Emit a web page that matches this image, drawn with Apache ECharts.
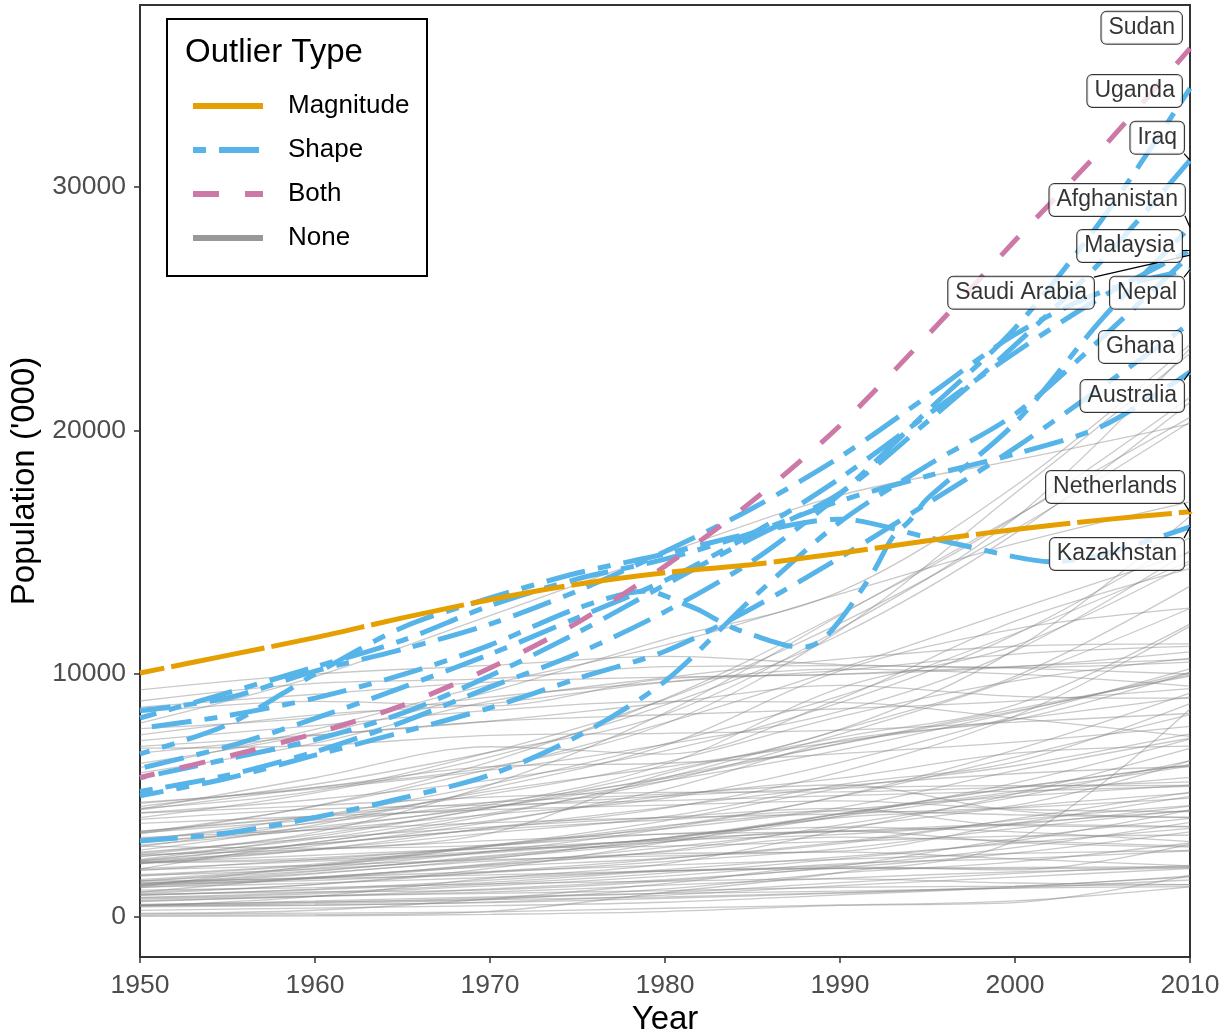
<!DOCTYPE html>
<html><head><meta charset="utf-8">
<script src="https://cdn.jsdelivr.net/npm/echarts@6/dist/echarts.min.js"></script>
<style>html,body{margin:0;padding:0;background:#fff}#c{width:1228px;height:1036px}</style>
</head><body><div id="c"></div>
<script>
const FONT = '"Liberation Sans", Arial, Helvetica, sans-serif';

// ---- axes ----
const xTicks = [1950, 1960, 1970, 1980, 1990, 2000, 2010];
const yTicks = [0, 10000, 20000, 30000];

// ---- years ----
const decades = [1950, 1960, 1970, 1980, 1990, 2000, 2010];
const fiveYears = [1950, 1955, 1960, 1965, 1970, 1975, 1980, 1985, 1990, 1995, 2000, 2005, 2010];

// ---- outliers (population, thousands) ----
// Magnitude
const netherlandsPop = [10027, 10752, 11480, 12292, 13038, 13675, 14150, 14485, 14952, 15459, 15926, 16320, 16650];
// Both
const sudanPop = [5734, 6600, 7544, 8700, 10233, 12100, 14418, 17100, 20200, 23900, 27800, 31600, 35700];
// Shape
const ugandaPop = [5158, 5826, 6788, 8010, 9446, 10827, 12548, 14631, 17384, 20794, 24200, 28700, 34050];
const iraqPop = [5719, 6489, 7290, 8375, 9918, 11685, 13653, 15577, 17419, 20363, 23500, 27000, 31100];
const malaysiaPop = [6110, 7000, 8160, 9440, 10800, 12300, 13830, 15760, 18030, 20640, 23190, 25500, 27400];
const saudiPop = [3121, 3453, 4087, 4890, 5836, 7427, 9692, 13100, 16234, 18562, 20664, 23817, 27200];
const nepalPop = [8483, 9000, 10105, 11000, 12040, 13400, 15016, 16800, 18905, 21400, 23941, 25700, 26600];
const ghanaPop = [4981, 5700, 6652, 7600, 8597, 9800, 10921, 12700, 14773, 17000, 19278, 21800, 24400];
const australiaPop = [8177, 9212, 10274, 11369, 12793, 13893, 14706, 15789, 17097, 18125, 19029, 20177, 22400];
const afghanYears = [1950, 1955, 1960, 1965, 1970, 1975, 1979, 1980, 1981, 1982, 1983, 1984, 1985, 1986, 1987, 1988, 1989, 1990, 1991, 1992, 1993, 1994, 1995, 2000, 2005, 2010];
const afghanPop = [7752, 8271, 8997, 9957, 11173, 12689, 13400, 13200, 12900, 12600, 12200, 11850, 11600, 11350, 11150, 11100, 11400, 12200, 13200, 14300, 15600, 16300, 17200, 20300, 24600, 28350];
const kazakhYears = [1950, 1955, 1960, 1965, 1970, 1975, 1980, 1985, 1990, 1995, 2000, 2002, 2005, 2010];
const kazakhPop = [6703, 7900, 9982, 11900, 13110, 14136, 14919, 15784, 16350, 15600, 14800, 14600, 14900, 16030];

// ---- other countries (type "None"), values at decades 1950..2010 ----
const grayPop = [
 [9338,9984,10338,10707,10375,10224,9987],   // Hungary
 [8628,9154,9656,9859,9968,10282,10896],     // Belgium
 [8876,9602,9795,10286,10333,10256,10474],   // Czechia
 [8417,8858,8680,9785,9984,10298,10585],     // Portugal
 [7486,8306,8771,9643,10132,10806,11118],    // Greece
 [7010,7480,8043,8311,8559,8872,9382],       // Sweden
 [6936,7048,7467,7549,7678,8012,8363],       // Austria
 [4666,5328,6181,6319,6716,7184,7831],       // Switzerland
 [7251,7868,8490,8862,8821,8170,7425],       // Bulgaria
 [7745,8190,9040,9660,10190,9979,9492],      // Belarus
 [6732,7451,8045,8795,9518,9070,8991],       // Serbia
 [4268,4581,4929,5124,5141,5341,5551],       // Denmark
 [4008,4430,4606,4780,4987,5176,5365],       // Finland
 [3265,3581,3876,4086,4240,4491,4889],       // Norway
 [2913,2829,2950,3402,3514,3805,4554],       // Ireland
 [3463,3994,4522,4973,5299,5399,5404],       // Slovakia
 [3850,4140,4411,4600,4776,4428,4330],       // Croatia
 [2567,2778,3138,3414,3697,3500,3097],       // Lithuania
 [1950,2121,2359,2512,2664,2385,2097],       // Latvia
 [1101,1211,1360,1477,1565,1397,1331],       // Estonia
 [1473,1584,1727,1901,1998,1989,2040],       // Slovenia
 [1230,1395,1623,1889,1996,2035,2071],       // North Macedonia
 [1263,1636,2150,2682,3286,3129,2914],       // Albania
 [2662,3227,3703,4101,4463,3752,3705],       // Bosnia
 [2341,3004,3595,3996,4364,4201,4084],       // Moldova
 [3527,4145,4707,5048,5424,4362,4099],       // Georgia
 [1354,1874,2525,3096,3545,3070,2878],       // Armenia
 [2896,3898,5172,6164,7212,8123,9033],       // Azerbaijan
 [1258,2114,2903,3755,4499,6015,7346],       // Israel
 [1336,1805,2297,2603,2703,3843,4953],       // Lebanon
 [449,844,1599,2181,3565,5056,6931],         // Jordan
 [152,278,748,1375,2059,1934,2992],          // Kuwait
 [70,93,235,1014,1828,3135,8550],            // UAE
 [25,47,110,224,476,593,1713],               // Qatar
 [115,162,213,360,495,664,1241],             // Bahrain
 [456,552,724,1154,1812,2268,3041],          // Oman
 [4402,5316,6157,7941,11791,17410,23155],    // Yemen
 [3413,4565,6379,8971,12452,16411,21363],    // Syria
 [1029,1338,1994,3063,4236,5154,6198],       // Libya
 [3517,4147,5060,6368,8233,9700,10639],      // Tunisia
 [932,1036,1114,1479,2101,3224,4056],        // Palestine
 [5920,7141,8869,9836,10596,11126,11226],    // Cuba
 [3221,3869,4710,5691,7111,8463,9949],       // Haiti
 [2365,3294,4476,5745,7130,8541,9897],       // Dominican Rep.
 [1403,1628,1869,2135,2365,2612,2733],       // Jamaica
 [2218,2358,2710,3197,3518,3800,3722],       // Puerto Rico
 [636,848,971,1085,1222,1268,1328],          // Trinidad and Tobago
 [3146,4141,5453,7115,9084,11651,14631],     // Guatemala
 [1487,2002,2691,3635,4954,6575,8317],       // Honduras
 [2200,2773,3669,4508,5367,5887,6184],       // El Salvador
 [1295,1775,2397,3250,4137,5069,5738],       // Nicaragua
 [966,1334,1858,2389,3079,3979,4577],        // Costa Rica
 [892,1143,1513,1949,2471,3030,3643],        // Panama
 [3470,4546,6073,7976,10218,12626,14990],    // Ecuador
 [3090,3707,4506,5590,6856,8418,10048],      // Bolivia
 [1473,1904,2479,3183,4224,5303,6247],       // Paraguay
 [2239,2538,2810,2916,3110,3320,3359],       // Uruguay
 [6143,7712,9562,11174,13275,15342,17063],   // Chile
 [4433,5722,6996,6695,8976,12155,14312],     // Cambodia
 [1683,2120,2685,3253,4258,5323,6249],       // Laos
 [780,956,1279,1680,2184,2397,2719],         // Mongolia
 [7971,9880,12388,14944,17331,18777,20262],  // Sri Lanka
 [1709,1967,2427,3095,4156,5508,7310],       // Papua New Guinea
 [1908,2372,2820,3147,3398,3858,4370],       // New Zealand
 [1022,1634,2074,2415,3013,4029,5130],       // Singapore
 [1974,3076,3958,4978,5704,6731,7025],       // Hong Kong
 [1740,2173,2964,3627,4395,4955,5418],       // Kyrgyzstan
 [1532,2069,2935,3954,5285,6216,7527],       // Tajikistan
 [1211,1594,2188,2862,3668,4516,5087],       // Turkmenistan
 [4548,5455,6771,8330,11848,16395,23364],    // Angola
 [6313,7524,9262,11414,13372,17712,23532],   // Mozambique
 [4084,5100,6576,8717,11599,15767,21152],    // Madagascar
 [4466,5176,6771,8947,12070,15928,20341],    // Cameroon
 [2630,3475,5427,8390,12400,16455,20532],    // Cote d'Ivoire
 [4284,4829,5625,6823,8811,11608,15605],     // Burkina Faso
 [4708,5264,6034,7090,8446,10946,15049],     // Mali
 [2954,3619,4625,6267,9409,11149,14539],     // Malawi
 [2560,3389,4497,5988,7709,10990,16465],     // Niger
 [2310,3070,4180,5720,7690,9890,13600],      // Zambia
 [2747,3777,5290,7049,10113,11834,12697],    // Zimbabwe
 [2477,3207,4258,5583,7514,9798,12679],      // Senegal
 [2502,3002,3645,4476,5958,8260,11952],      // Chad
 [2264,2756,3445,5892,7385,8721,12044],      // Somalia
 [2186,2933,3896,5247,7260,8110,10039],      // Rwanda
 [3094,3577,4216,4880,6354,8241,10193],      // Guinea
 [2255,2432,2908,3718,4978,6866,9199],       // Benin
 [2309,2786,3457,4130,5438,6378,8766],       // Burundi
 [1395,1580,2119,2719,3786,4925,6422],       // Togo
 [1984,2293,2641,3240,4084,4585,6416],       // Sierra Leone
 [903,1120,1420,1890,2130,2850,3891],        // Liberia
 [1327,1504,1828,2274,2809,3640,4390],       // Central African Rep.
 [808,1010,1350,1800,2390,3130,4390],        // Congo
 [667,850,1150,1530,2030,2630,3500],         // Mauritania
 [472,499,590,770,980,1260,1640],            // Gabon
 [271,368,466,607,913,1230,1690],            // Gambia
 [518,616,711,830,1000,1200,1520],           // Guinea-Bissau
 [734,866,1028,1307,1599,1856,2022],         // Lesotho
 [485,599,780,990,1410,1790,2120],           // Namibia
 [413,475,620,900,1290,1640,1990],           // Botswana
 [493,660,830,970,1060,1190,1250]            // Mauritius
];

// ---- labels (annotation anchor: right edge of box, in data units) ----
const labelNames = ['Sudan','Uganda','Iraq','Afghanistan','Malaysia','Saudi Arabia','Nepal','Ghana','Australia','Netherlands','Kazakhstan'];
const labelYear  = [2009.54, 2009.54, 2009.66, 2009.71, 2009.54, 2004.51, 2009.66, 2009.54, 2009.66, 2009.66, 2009.66];
const labelPop   = [36540, 33950, 32020, 29470, 27580, 25650, 25650, 23430, 21410, 17670, 14920];
const labelLeader = [false, false, true, true, true, true, true, false, true, true, true];

// ---- legend ----
const legendTitle = 'Outlier Type';
const legendItems = ['Magnitude', 'Shape', 'Both', 'None'];

const COL = { Magnitude: '#E69F00', Shape: '#56B4E9', Both: '#CC79A7', None: '#999999' };
const DASH = { Magnitude: [95, 7], Shape: [13, 13, 40, 13], Both: [26, 26], None: 'solid' };

function pairs(xs, ys) { return xs.map((x, i) => [x, ys[i]]); }

const outliers = [
  { name: 'Uganda', type: 'Shape', years: fiveYears, pop: ugandaPop },
  { name: 'Iraq', type: 'Shape', years: fiveYears, pop: iraqPop },
  { name: 'Afghanistan', type: 'Shape', years: afghanYears, pop: afghanPop },
  { name: 'Malaysia', type: 'Shape', years: fiveYears, pop: malaysiaPop },
  { name: 'Saudi Arabia', type: 'Shape', years: fiveYears, pop: saudiPop },
  { name: 'Nepal', type: 'Shape', years: fiveYears, pop: nepalPop },
  { name: 'Ghana', type: 'Shape', years: fiveYears, pop: ghanaPop },
  { name: 'Australia', type: 'Shape', years: fiveYears, pop: australiaPop },
  { name: 'Kazakhstan', type: 'Shape', years: kazakhYears, pop: kazakhPop },
  { name: 'Sudan', type: 'Both', years: fiveYears, pop: sudanPop },
  { name: 'Netherlands', type: 'Magnitude', years: fiveYears, pop: netherlandsPop }
];

const series = [];
grayPop.forEach((p) => {
  series.push({
    type: 'line', data: pairs(decades, p), smooth: 0.35, symbol: 'none', silent: true, z: 1,
    lineStyle: { color: 'rgba(135,135,135,0.45)', width: 1.3 }
  });
});
outliers.forEach((o, i) => {
  series.push({
    type: 'line', name: o.name, data: pairs(o.years, o.pop), smooth: 0.3, symbol: 'none', silent: true,
    z: o.type === 'Shape' ? 3 : (o.type === 'Both' ? 4 : 5),
    lineStyle: { color: COL[o.type], width: 5, type: DASH[o.type], cap: 'butt', dashOffset: i * 7 }
  });
});

const endPop = {};
outliers.forEach(o => { endPop[o.name] = [o.years[o.years.length - 1], o.pop[o.pop.length - 1]]; });

const halfBox = 650; // half label height in population units
const leaderData = [];
labelNames.forEach((n, i) => {
  if (!labelLeader[i]) return;
  const e = endPop[n];
  const sy = Math.max(labelPop[i] - halfBox, Math.min(labelPop[i] + halfBox, e[1]));
  leaderData.push({ coords: [[labelYear[i], sy], e] });
});
series.push({
  type: 'lines', coordinateSystem: 'cartesian2d', silent: true, z: 8,
  data: leaderData, lineStyle: { color: '#000', width: 1.2, opacity: 1 }
});
series.push({
  type: 'scatter', silent: true, z: 10, symbolSize: 0,
  data: labelNames.map((n, i) => ({ name: n, value: [labelYear[i], labelPop[i]] })),
  itemStyle: { color: 'transparent' },
  label: {
    show: true, position: 'left', distance: 0, formatter: p => p.name,
    fontFamily: FONT, fontSize: 23, color: '#000', lineHeight: 24,
    backgroundColor: '#fff', borderColor: '#000', borderWidth: 1, borderRadius: 5,
    padding: [4, 7, 4, 7]
  }
});

// legend graphics
const legendGraphic = [
  { type: 'rect', shape: { x: 167, y: 19, width: 260, height: 257 }, style: { fill: '#fff', stroke: '#000', lineWidth: 2 }, z: 100 },
  { type: 'text', x: 185, y: 53, style: { text: legendTitle, fontFamily: FONT, fontSize: 33, fill: '#000', verticalAlign: 'middle' }, z: 101 }
];
legendItems.forEach((it, i) => {
  const y = 106 + i * 44;
  legendGraphic.push({ type: 'line', shape: { x1: 193, y1: y, x2: 263, y2: y },
    style: { stroke: COL[it], lineWidth: 6, lineDash: DASH[it] === 'solid' || it === 'Magnitude' ? null : DASH[it], lineCap: 'butt' }, z: 101 });
  legendGraphic.push({ type: 'text', x: 288, y: y, style: { text: it, fontFamily: FONT, fontSize: 26, fill: '#000', verticalAlign: 'middle' }, z: 101 });
});

const chart = echarts.init(document.getElementById('c'), null, { renderer: 'canvas' });
chart.setOption({
  animation: false,
  backgroundColor: '#fff',
  grid: { left: 140, right: 38, top: 5, bottom: 79, show: true, borderColor: '#333', borderWidth: 2, backgroundColor: '#fff', containLabel: false, outerBoundsMode: 'none' },
  xAxis: {
    type: 'value', min: 1950, max: 2010, interval: 10,
    name: 'Year', nameLocation: 'middle', nameGap: 46,
    nameTextStyle: { fontFamily: FONT, fontSize: 33, color: '#000', verticalAlign: 'top' },
    axisLine: { show: true, onZero: false, lineStyle: { color: '#333', width: 2 } }, splitLine: { show: false },
    axisTick: { show: true, inside: false, length: 6, lineStyle: { color: '#333', width: 1.5 } },
    axisLabel: { fontFamily: FONT, fontSize: 26.5, color: '#4d4d4d', margin: 15, customValues: xTicks, formatter: v => String(v) }
  },
  yAxis: {
    type: 'value', min: -1644, max: 37480,
    name: "Population ('000)", nameLocation: 'middle', nameGap: 95, nameRotate: 90,
    nameTextStyle: { fontFamily: FONT, fontSize: 33, color: '#000' },
    axisLine: { show: true, onZero: false, lineStyle: { color: '#333', width: 2 } }, splitLine: { show: false },
    axisTick: { show: true, inside: false, length: 6, customValues: yTicks, lineStyle: { color: '#333', width: 1.5 } },
    axisLabel: { fontFamily: FONT, fontSize: 26.5, color: '#4d4d4d', margin: 14, customValues: yTicks, formatter: v => String(v) }
  },
  graphic: legendGraphic,
  series: series
});
</script></body></html>
